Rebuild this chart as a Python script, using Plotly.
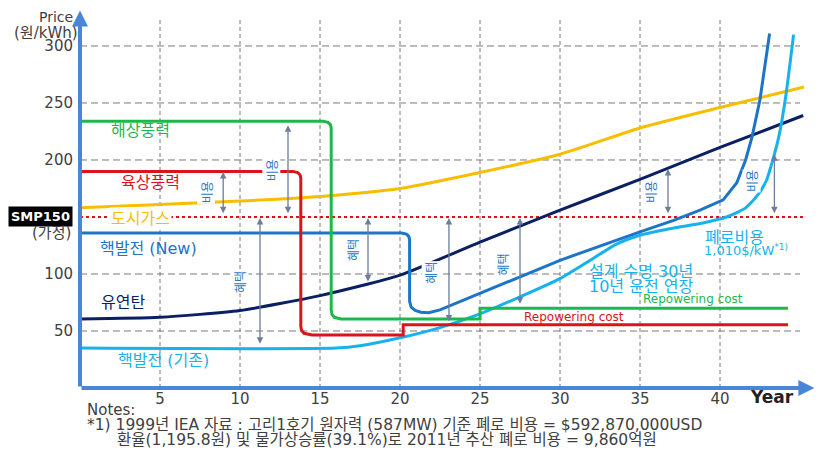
import plotly.graph_objects as go

# ---------------- data ----------------
year_ticks = [5, 10, 15, 20, 25, 30, 35, 40]
price_ticks = [50, 100, 200, 250, 300]
smp_price = 150

offshore_x = [0, 15.2, 15.5, 15.65, 15.7, 15.7, 15.75, 15.9, 16.3, 25, 25, 44.25]
offshore_y = [234, 234, 233, 231, 228, 68, 64.5, 62, 60.5, 60.5, 70, 70]

onshore_x = [0, 13.3, 13.6, 13.75, 13.8, 13.8, 13.85, 14.0, 14.5, 20.2, 20.2, 44.25]
onshore_y = [190, 190, 189, 187, 184, 54, 50.5, 48, 46.5, 46.5, 55.5, 55.5]

gas_x = [0, 5, 10, 15, 20, 25, 30, 35, 40, 45.25]
gas_y = [158, 161, 164, 168, 175, 189, 205, 228, 246, 264]

coal_x = [0, 5, 10, 15, 20, 25, 30, 35, 40, 45.2]
coal_y = [60.5, 62, 68, 81, 99, 128, 156, 183, 211, 239]

nuc_new_x = [0, 20.1, 20.4, 20.55, 20.6, 20.6, 20.7, 20.95, 21.3, 21.8, 22.5, 25, 30, 35,
             37.1, 38.75, 40.2, 41.05, 41.6, 42, 42.5, 43.1]
nuc_new_y = [136, 136, 135, 133, 130, 76, 71, 68, 66.5, 66, 68.5, 83, 112, 137,
             147, 156, 165, 180, 200, 220, 253, 311]

nuc_old_x = [0, 16, 17.5, 20, 22.5, 25, 27.5, 30, 32, 33.5, 35, 37, 39,
             40.4, 41.6, 42.4, 42.9, 43.3, 43.7, 44.1, 44.6]
nuc_old_y = [35, 35, 37, 44, 53, 65, 80, 96, 113, 126, 134, 140, 145,
             150, 158, 170, 182, 200, 222, 255, 310]

# double-headed arrows: (x, y_low, y_high)
cost_arrows = [(8.95, 152, 189.5), (13.0, 152, 230.5), (36.75, 152, 192), (43.4, 152, 205)]
benefit_arrows = [(11.25, 37.5, 149), (18.0, 92, 149), (23.06, 57, 149), (27.5, 72.5, 149)]
cost_labels = [(7.9, 172), (11.94, 191), (35.7, 172), (42.0, 181.6)]
benefit_labels = [(10.0, 93), (17.0, 121), (21.9, 101.5), (26.4, 108.7)]

X_RANGE = [0, 46.5]
Y_RANGE = [0, 333.3]

GREEN = "#1DB84A"
RED = "#D9141B"
YELLOW = "#F7BE00"
NAVY = "#0B1F63"
BLUE = "#1C75C6"
LBLUE = "#16B2EE"
AXIS = "#4A86D8"
TXT = "#404040"
FONT = "DejaVu Sans, Noto Sans CJK KR"
KFONT = "Noto Sans CJK KR"

fig = go.Figure()

shapes = []
for p in price_ticks:
    shapes.append(dict(type="line", xref="x", yref="y", x0=0, x1=45.0, y0=p, y1=p,
                       line=dict(color="#7a7a7a", width=1, dash="7px,4px"), layer="below"))
for yv in year_ticks:
    shapes.append(dict(type="line", xref="x", yref="y", x0=yv, x1=yv, y0=0, y1=323,
                       line=dict(color="#7a7a7a", width=1, dash="4px,3px"), layer="below"))
shapes.append(dict(type="line", xref="x", yref="y", x0=0, x1=45.2, y0=smp_price, y1=smp_price,
                   line=dict(color=RED, width=2, dash="3px,3px"), layer="below"))

series = [
    (gas_x, gas_y, YELLOW, "spline"),
    (coal_x, coal_y, NAVY, "spline"),
    (nuc_old_x, nuc_old_y, LBLUE, "spline"),
    (nuc_new_x, nuc_new_y, BLUE, "linear"),
    (offshore_x, offshore_y, GREEN, "linear"),
    (onshore_x, onshore_y, RED, "linear"),
]
for xs, ys, c, shp in series:
    ln = dict(color=c, width=3, shape=shp)
    if shp == "spline":
        ln["smoothing"] = 0.6
    fig.add_trace(go.Scatter(x=xs, y=ys, mode="lines", line=ln,
                             hoverinfo="skip", showlegend=False, cliponaxis=False))

ann = []
ann.append(dict(x=0, y=331, ax=0, ay=0, xref="x", yref="y", axref="x", ayref="y", text="",
                showarrow=True, arrowhead=2, arrowsize=0.8, arrowwidth=4, arrowcolor=AXIS))
ann.append(dict(x=45.9, y=0, ax=0, ay=0, xref="x", yref="y", axref="x", ayref="y", text="",
                showarrow=True, arrowhead=2, arrowsize=0.8, arrowwidth=4, arrowcolor=AXIS))

for (x, y0, y1) in cost_arrows + benefit_arrows:
    ann.append(dict(x=x, y=y1, ax=x, ay=y0, xref="x", yref="y", axref="x", ayref="y", text="",
                    showarrow=True, arrowhead=2, startarrowhead=2, arrowside="end+start",
                    arrowsize=1, startarrowsize=1, arrowwidth=1.3, arrowcolor="#6D7D9C"))

for (x, y) in cost_labels:
    ann.append(dict(x=x, y=y, xref="x", yref="y", text="비용", textangle=-90, showarrow=False,
                    font=dict(family=KFONT, size=12, color="#2E78C0"), bgcolor="white", borderpad=0))
for (x, y) in benefit_labels:
    ann.append(dict(x=x, y=y, xref="x", yref="y", text="혜택", textangle=-90, showarrow=False,
                    font=dict(family=KFONT, size=12, color="#2E78C0"), bgcolor="white", borderpad=0))


def label(text, x, y, color, size=16, bg=None, xanchor="center", paper=False, pad=1):
    if paper:
        d = dict(x=(x - X_RANGE[0]) / (X_RANGE[1] - X_RANGE[0]),
                 y=(y - Y_RANGE[0]) / (Y_RANGE[1] - Y_RANGE[0]), xref="paper", yref="paper")
    else:
        d = dict(x=x, y=y, xref="x", yref="y")
    d.update(text=text, showarrow=False, xanchor=xanchor, yanchor="middle",
             font=dict(family=FONT, size=size, color=color))
    if bg:
        d["bgcolor"] = bg
        d["borderpad"] = pad
    ann.append(d)


label("해상풍력", 3.75, 226, GREEN)
label("육상풍력", 4.4, 180, RED)
label("도시가스", 3.75, 149, YELLOW, bg="white")
label("핵발전 (New)", 4.3, 122, BLUE)
label("유연탄", 2.7, 74.6, NAVY)
label("핵발전 (기존)", 5.2, 24.5, LBLUE)
label("Repowering cost", 38.3, 78, GREEN, size=12)
label("Repowering cost", 30.9, 62, RED, size=12)
label("폐로비용", 40.9, 132, LBLUE, size=16)
label("1,010$/kW<sup>*1)</sup>", 38.9, 121, LBLUE, size=13, xanchor="left")
label("설계 수명 30년", 35.06, 102, LBLUE, size=16)
label("10년 운전 연장", 35.06, 89, LBLUE, size=16)

label("Price", -1.5, 325.5, TXT, size=14, paper=True)
label("(원/kWh)", -2.1, 311.5, TXT, size=15, paper=True)
label("<b>SMP150</b>", -2.5, smp_price, "white", size=13, bg="black", paper=True, pad=2)
label("(가정)", -1.8, 136, TXT, size=15, paper=True)
label("<b>Year</b>", 43.25, -7.9, "#222222", size=17, paper=True)
label("Notes:", 0.31, -19.3, TXT, size=15, xanchor="left", paper=True)
label("*1) 1999년 IEA 자료 : 고리1호기 원자력 (587MW) 기준 폐로 비용 = $592,870,000USD",
      0.31, -32.3, TXT, size=15.5, xanchor="left", paper=True)
label("환율(1,195.8원) 및 물가상승률(39.1%)로 2011년 추산 폐로 비용 = 9,860억원",
      2.19, -45.8, TXT, size=15.5, xanchor="left", paper=True)

# The page body has an 8px default margin, so the figure is sized/offset to compensate.
fig.update_layout(
    width=817, height=443,
    margin=dict(l=72, r=1, t=0, b=63, autoexpand=False),
    paper_bgcolor="white", plot_bgcolor="white",
    shapes=shapes, annotations=ann, showlegend=False,
    xaxis=dict(range=X_RANGE, showgrid=False, zeroline=False, showline=False, automargin=False,
               tickvals=year_ticks, ticktext=[str(v) for v in year_ticks],
               tickfont=dict(family=FONT, size=15, color=TXT), ticks="", fixedrange=True),
    yaxis=dict(range=Y_RANGE, showgrid=False, zeroline=False, showline=False, automargin=False,
               tickvals=price_ticks, ticktext=[str(v) for v in price_ticks],
               tickfont=dict(family=FONT, size=15, color=TXT), ticks="",
               ticklabelstandoff=6, fixedrange=True),
)

fig.write_html("out.html")
